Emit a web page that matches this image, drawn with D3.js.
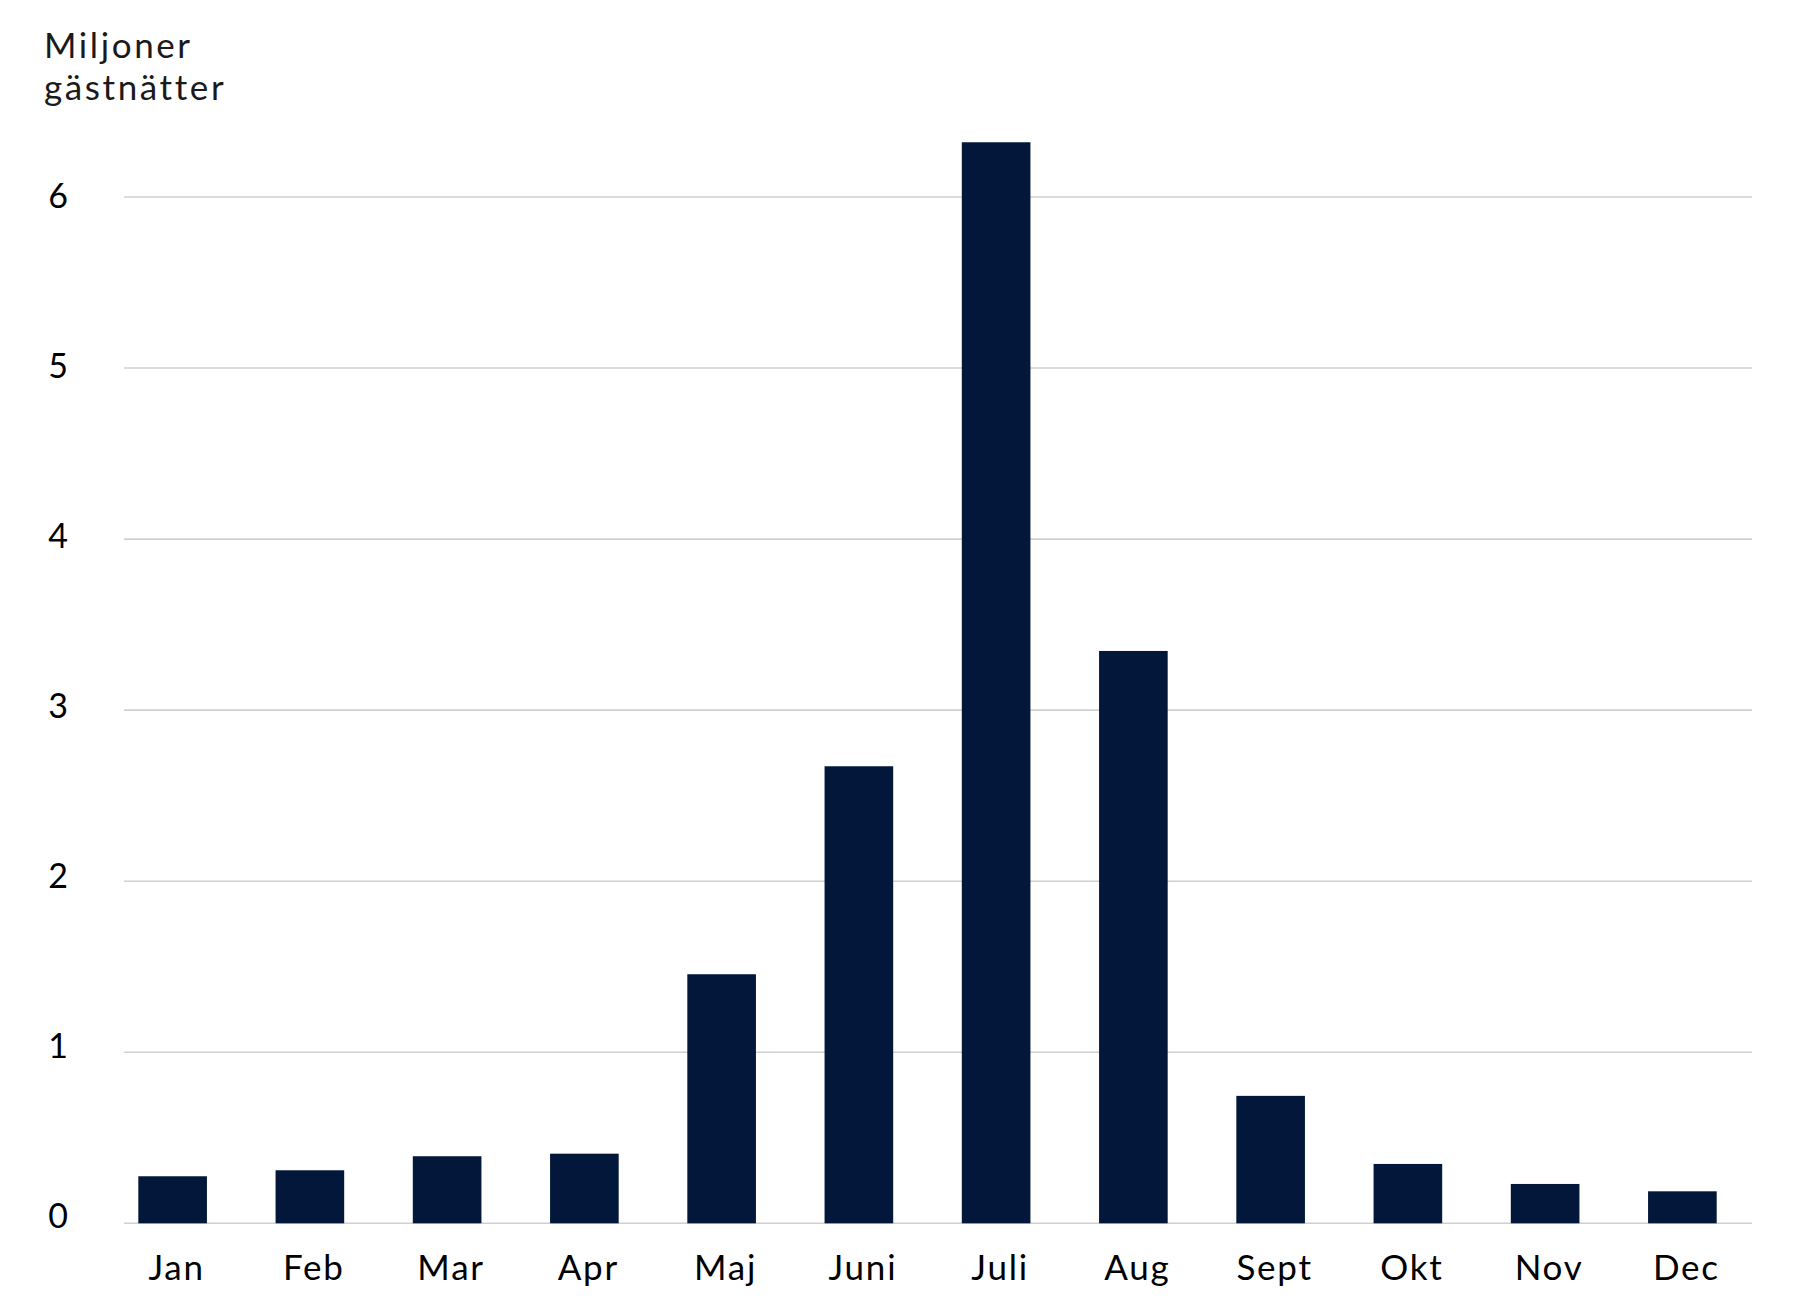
<!DOCTYPE html>
<meta charset="utf-8">
<style>
  body { margin: 0; background: #fff; }
  .tick-label, .unit {
    font-family: Lato, "Noto Sans", sans-serif;
    fill: #000;
  }
</style>
<svg width="1800" height="1312"></svg>
<script src="https://d3js.org/d3.v7.min.js"></script>
<script>
  // månader och miljoner gästnätter
  var months = ["Jan", "Feb", "Mar", "Apr", "Maj", "Juni", "Juli", "Aug", "Sept", "Okt", "Nov", "Dec"];
  var nights = [0.275, 0.31, 0.392, 0.407, 1.456, 2.672, 6.32, 3.346, 0.745, 0.347, 0.23, 0.187];
  var yTicks = [0, 1, 2, 3, 4, 5, 6];
  var unitLines = ["Miljoner", "gästnätter"];

  var svg = d3.select("svg");

  var x = d3.scaleBand()
    .domain(months)
    .range([104, 1751])
    .paddingInner(0.5)
    .paddingOuter(0.25);

  var y = d3.scaleLinear()
    .domain([0, 6])
    .range([1223.3, 197]);

  // etiketterna sitter lite tätare än linjerna
  var yLabel = d3.scaleLinear()
    .domain([0, 6])
    .range([1216, 196]);

  // stödlinjer
  svg.append("g")
    .selectAll("line")
    .data(yTicks)
    .enter().append("line")
    .attr("x1", 124)
    .attr("x2", 1752)
    .attr("y1", function (d) { return y(d); })
    .attr("y2", function (d) { return y(d); })
    .style("stroke", "#d0d0d0")
    .style("stroke-width", 1.6);

  svg.append("g")
    .selectAll("text")
    .data(yTicks)
    .enter().append("text")
    .attr("class", "tick-label")
    .attr("x", 58)
    .attr("y", function (d) { return yLabel(d); })
    .attr("dy", "0.36em")
    .attr("text-anchor", "middle")
    .style("font-size", "34px")
    .text(function (d) { return d; });

  // staplar
  svg.append("g")
    .selectAll("rect")
    .data(nights)
    .enter().append("rect")
    .attr("x", function (d, i) { return x(months[i]); })
    .attr("width", x.bandwidth())
    .attr("y", function (d) { return y(d); })
    .attr("height", function (d) { return y(0) - y(d); })
    .style("fill", "#021739");

  svg.append("g")
    .selectAll("text")
    .data(months)
    .enter().append("text")
    .attr("class", "tick-label")
    .attr("x", function (d) { return x(d) + x.bandwidth() / 2 + 4; })
    .attr("y", 1280)
    .attr("text-anchor", "middle")
    .style("font-size", "35px")
    .style("letter-spacing", "1.8px")
    .text(function (d) { return d; });

  svg.append("g")
    .selectAll("text")
    .data(unitLines)
    .enter().append("text")
    .attr("class", "unit")
    .attr("x", 44)
    .attr("y", function (d, i) { return 58 + i * 42; })
    .style("font-size", "35px")
    .style("letter-spacing", "2.6px")
    .style("fill", "#1a1a1a")
    .text(function (d) { return d; });
</script>
